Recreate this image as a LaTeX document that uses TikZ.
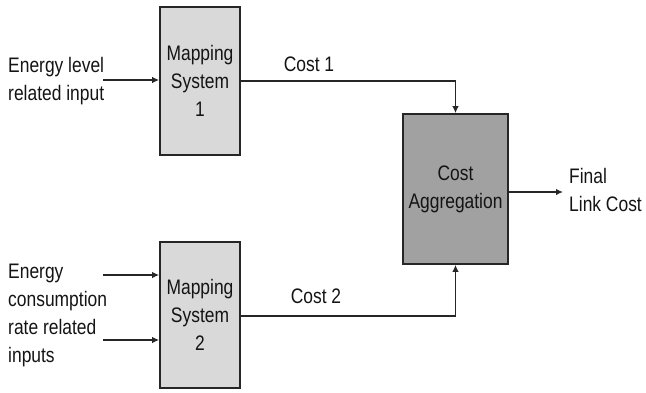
\documentclass[tikz,border=0pt]{standalone}
\usepackage{fontspec}
\setmainfont{Liberation Sans}[FakeStretch=0.83]
\usetikzlibrary{arrows.meta}
\begin{document}
\begin{tikzpicture}[x=1pt,y=-1pt,
  txt/.style={font=\fontsize{21}{28}\selectfont, text=black!92, inner sep=0pt},
  lightbox/.style={draw=black!85, line width=1.6pt, fill=black!15, minimum width=80pt, inner sep=0pt, align=center, txt},
  darkbox/.style={draw=black!85, line width=1.6pt, fill=black!37, minimum width=105pt, minimum height=150pt, inner sep=0pt, align=center, txt},
  conn/.style={line width=1.4pt, draw=black!85},
  arr/.style={conn, -{Latex[length=7pt,width=6.5pt]}}]
\useasboundingbox (0,0) rectangle (646,392);
\node[lightbox, minimum height=148pt] (m1) at (200,81) {Mapping\\System\\1};
\node[lightbox, minimum height=146pt] (m2) at (200,315) {Mapping\\System\\2};
\node[darkbox] (agg) at (455.5,189) {Cost\\Aggregation};
\node[txt, align=left, anchor=west] (in1) at (8,81) {Energy level\\related input};
\node[txt, align=left, anchor=west] (in2) at (8,315) {Energy\\consumption\\rate related\\inputs};
\node[txt] (c1) at (309,64) {Cost 1};
\node[txt] (c2) at (316,296) {Cost 2};
\node[txt, align=left, anchor=west] (fin) at (569,190) {Final\\Link Cost};
\coordinate (s1) at (103,80);
\coordinate (s2) at (103,275);
\coordinate (s3) at (103,340);
\coordinate (f1) at (563,192);
\draw[arr] (s1) -- (s1 -| m1.west);
\draw[arr] (s2) -- (s2 -| m2.west);
\draw[arr] (s3) -- (s3 -| m2.west);
\draw[arr] (m1.east |- 0,81) -| (agg.north);
\draw[arr] (m2.east |- 0,316) -| (agg.south);
\draw[arr] (agg.east |- f1) -- (f1);
\end{tikzpicture}
\end{document}
